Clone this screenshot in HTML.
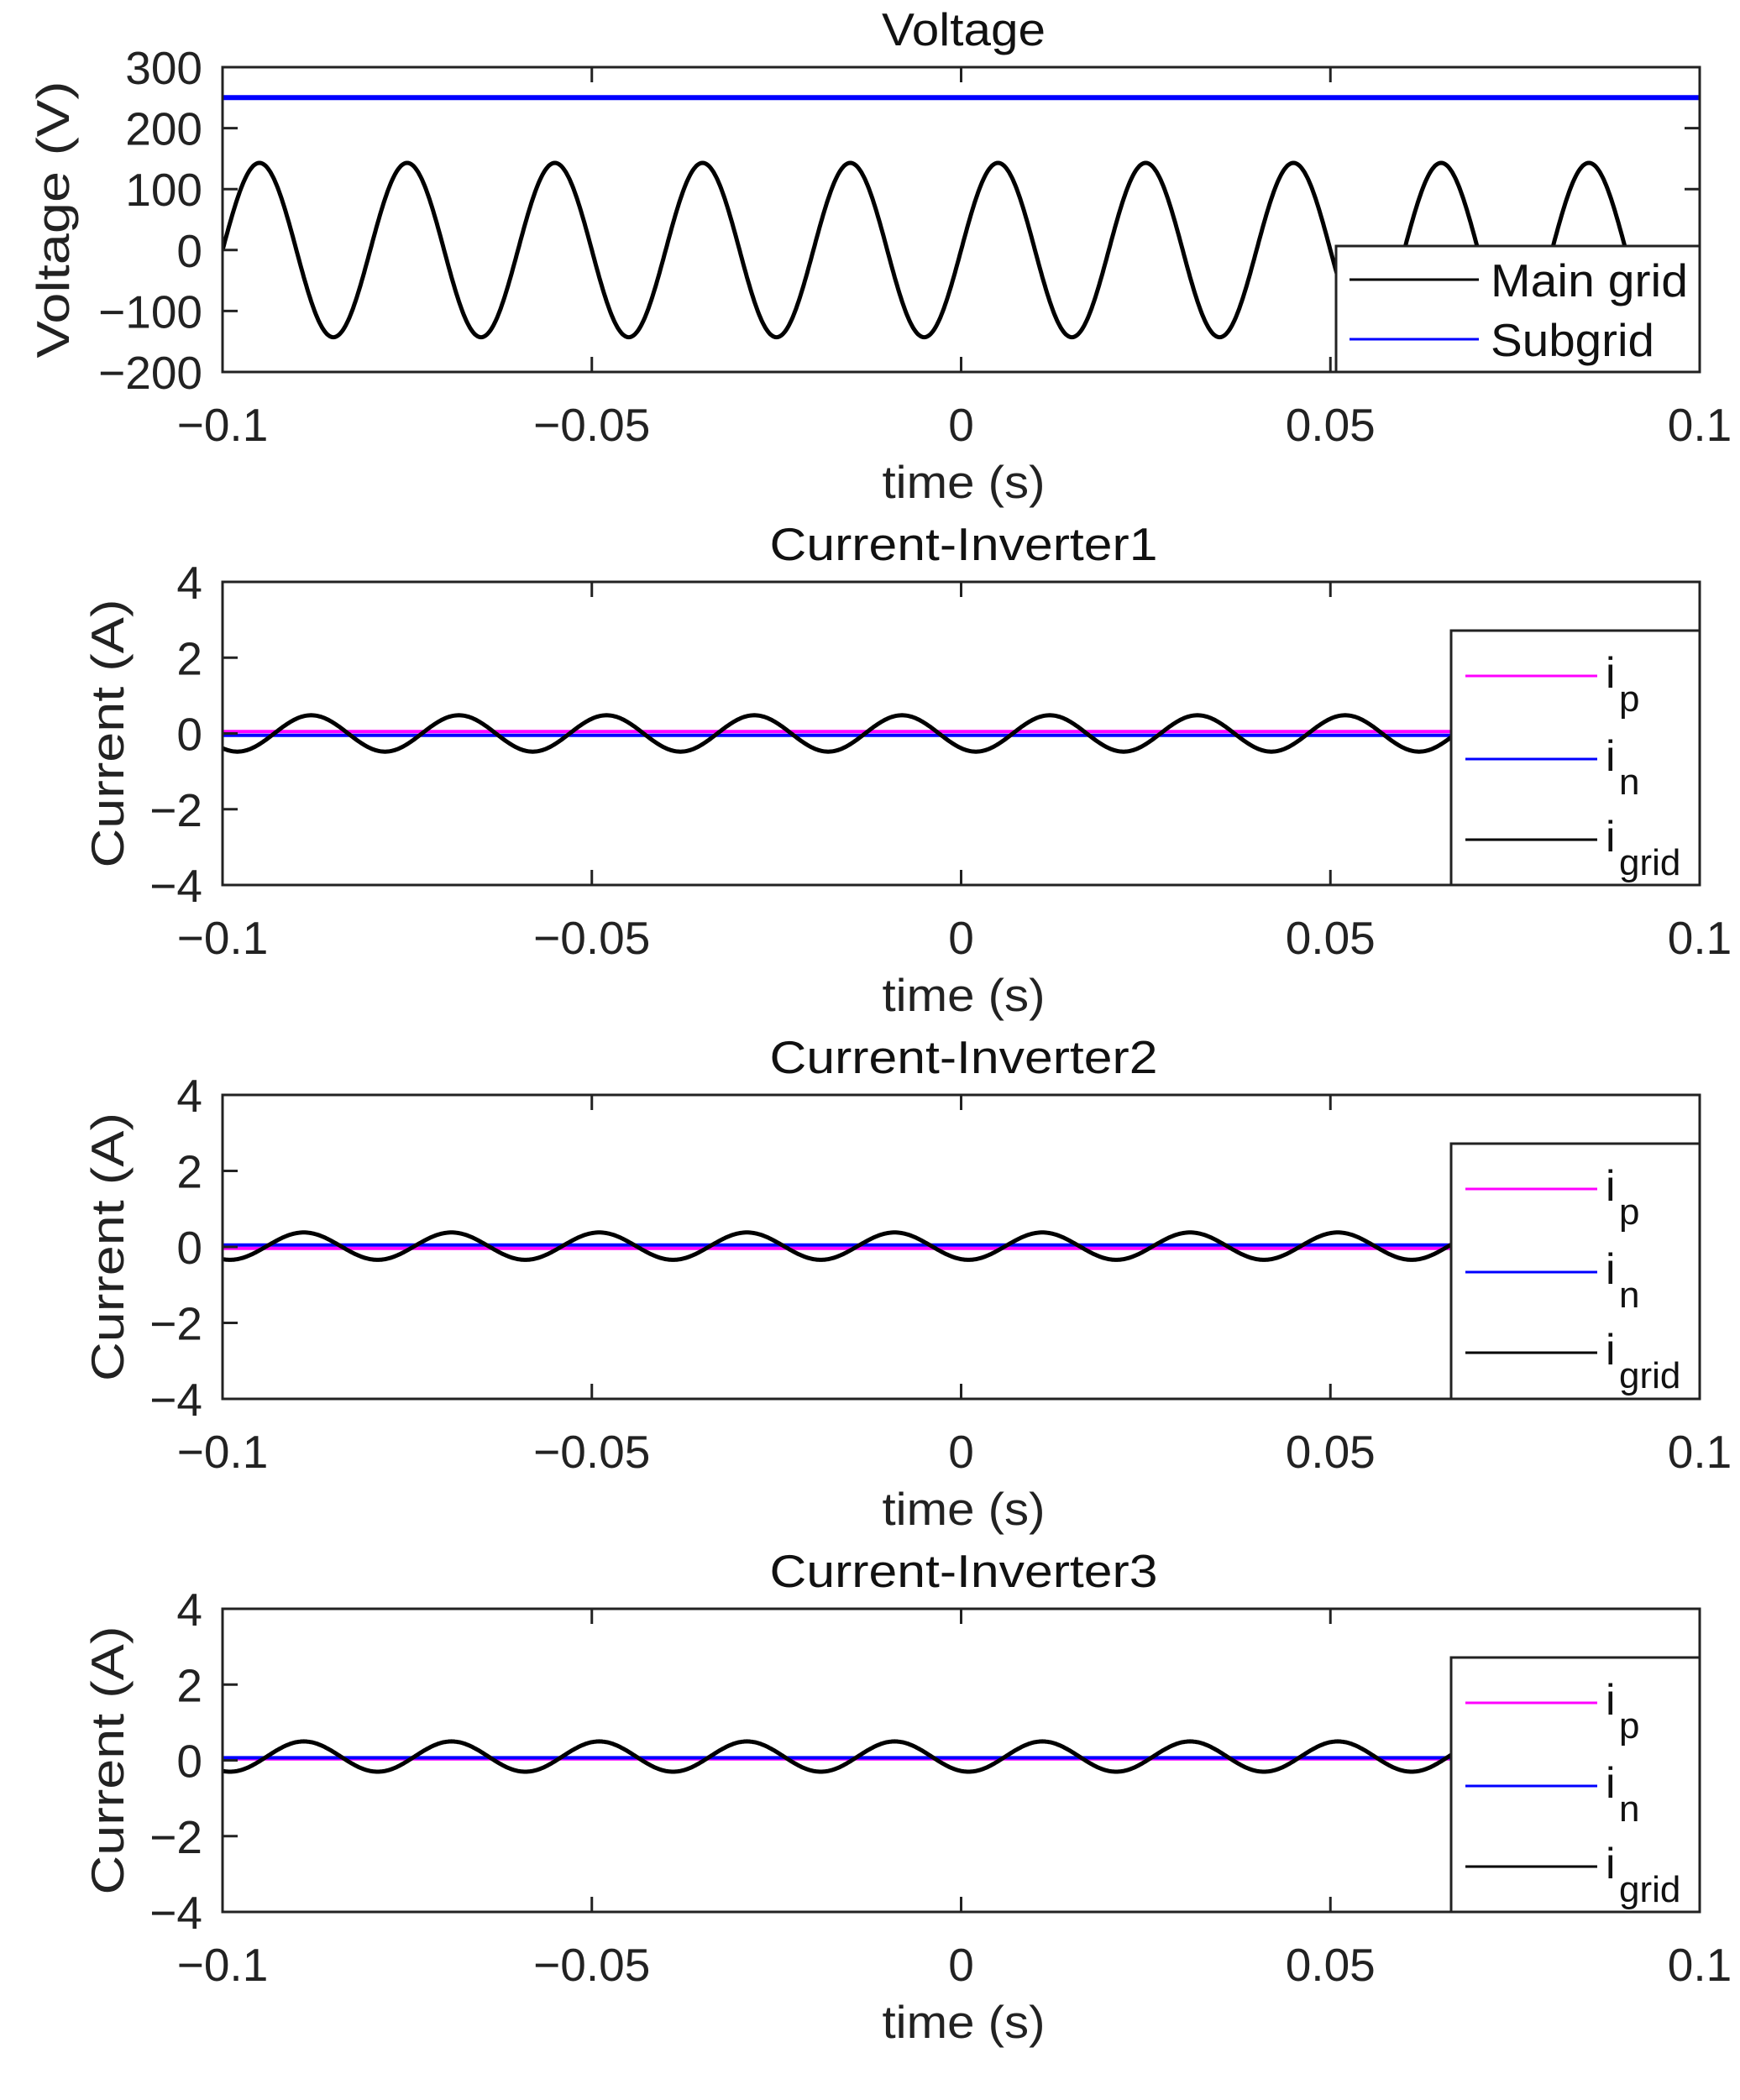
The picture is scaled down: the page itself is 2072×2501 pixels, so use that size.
<!DOCTYPE html>
<html><head><meta charset="utf-8">
<style>
html,body{margin:0;padding:0;background:#fff;}
svg{display:block;font-family:"Liberation Sans","Noto Sans CJK JP",sans-serif;}
</style></head>
<body>
<svg id="fig" width="2072" height="2501" viewBox="0 0 2072 2501" xmlns="http://www.w3.org/2000/svg"></svg>
<script>
// ---- data ----
const xTicks = [-0.1, -0.05, 0, 0.05, 0.1];
const xTickLabels = ["\u22120.1", "\u22120.05", "0", "0.05", "0.1"];
const voltTicks = [-200, -100, 0, 100, 200, 300];
const voltTickLabels = ["\u2212200", "\u2212100", "0", "100", "200", "300"];
const currTicks = [-4, -2, 0, 2, 4];
const currTickLabels = ["\u22124", "\u22122", "0", "2", "4"];
const panelTitles = ["Voltage", "Current-Inverter1", "Current-Inverter2", "Current-Inverter3"];
// sinusoid parameters: amplitude, offset, freq (Hz), zero-crossing time (s)
const mainGridAmp = [143];
const mainGridOffset = [0];
const mainGridFreq = [50];
const mainGridZero = [-0.1];
const subgridLevel = [250];
const gridAmp = [0.48, 0.36, 0.4];
const gridOffset = [0.0, 0.02, 0.1];
const gridFreq = [50, 50, 50];
const gridZero = [-0.093, -0.094, -0.094];
const ipLevel = [0.05, -0.04, 0.04];
const inLevel = [-0.05, 0.05, 0.07];

// ---- layout ----
const NS = "http://www.w3.org/2000/svg";
const svg = document.getElementById('fig');
const L = 265, R = 2024;
const panels = [
  {top: 80, bot: 443, ymin: -200, ymax: 300},
  {top: 693, bot: 1054, ymin: -4, ymax: 4},
  {top: 1304, bot: 1666, ymin: -4, ymax: 4},
  {top: 1916, bot: 2277, ymin: -4, ymax: 4}
];
const titleLens = [195, 462, 462, 462];
function mk(tag, attrs, parent) {
  const e = document.createElementNS(NS, tag);
  for (const k in attrs) e.setAttribute(k, attrs[k]);
  (parent || svg).appendChild(e);
  return e;
}
function xs(t) { return L + (t + 0.1) / 0.2 * (R - L); }
function ysFn(p) { return v => p.bot - (v - p.ymin) / (p.ymax - p.ymin) * (p.bot - p.top); }
function sinePath(ys, amp, off, f, z) {
  let d = "";
  const N = 1200;
  for (let i = 0; i <= N; i++) {
    const t = -0.1 + 0.2 * i / N;
    const v = off + amp * Math.sin(2 * Math.PI * f * (t - z));
    d += (i ? "L" : "M") + xs(t).toFixed(1) + " " + ys(v).toFixed(1);
  }
  return d;
}
function flatPath(ys, v) {
  return "M" + xs(-0.1) + " " + ys(v) + "L" + xs(0.1) + " " + ys(v);
}

panels.forEach((p, pi) => {
  const g = mk('g', {});
  
  
  const ys = ysFn(p);
  const clipId = 'clip' + pi;
  const cp = mk('clipPath', {id: clipId}, g);
  mk('rect', {x: L, y: p.top, width: R - L, height: p.bot - p.top}, cp);
  const series = mk('g', {'clip-path': 'url(#' + clipId + ')'}, g);
  
  

  if (pi === 0) {
    const b = mk('path', {d: flatPath(ys, subgridLevel[0]), stroke: '#0000ff', 'stroke-width': 6, fill: 'none'}, series);
    
    
    const k = mk('path', {d: sinePath(ys, mainGridAmp[0], mainGridOffset[0], mainGridFreq[0], mainGridZero[0]), stroke: '#000', 'stroke-width': 5, fill: 'none'}, series);
    
    
  } else {
    const j = pi - 1;
    const m = mk('path', {d: flatPath(ys, ipLevel[j]), stroke: '#ff00ff', 'stroke-width': 4, fill: 'none'}, series);
    
    
    const b = mk('path', {d: flatPath(ys, inLevel[j]), stroke: '#0000ff', 'stroke-width': 4, fill: 'none'}, series);
    
    
    const k = mk('path', {d: sinePath(ys, gridAmp[j], gridOffset[j], gridFreq[j], gridZero[j]), stroke: '#000', 'stroke-width': 5, fill: 'none'}, series);
    
    
  }

  const box = mk('rect', {x: L, y: p.top, width: R - L, height: p.bot - p.top, fill: 'none', stroke: '#222', 'stroke-width': 3}, g);
  
  

  xTicks.forEach((t, i) => {
    const x = xs(t);
    mk('line', {x1: x, y1: p.bot, x2: x, y2: p.bot - 18, stroke: '#222', 'stroke-width': 3}, g);
    mk('line', {x1: x, y1: p.top, x2: x, y2: p.top + 18, stroke: '#222', 'stroke-width': 3}, g);
    const tx = mk('text', {x: x, y: p.bot + 82, 'font-size': 55, 'text-anchor': 'middle', fill: '#222'}, g);
    tx.textContent = xTickLabels[i];
    
    
  });
  const yt = pi === 0 ? voltTicks : currTicks;
  const ytl = pi === 0 ? voltTickLabels : currTickLabels;
  yt.forEach((v, i) => {
    const y = ys(v);
    mk('line', {x1: L, y1: y, x2: L + 18, y2: y, stroke: '#222', 'stroke-width': 3}, g);
    mk('line', {x1: R, y1: y, x2: R - 18, y2: y, stroke: '#222', 'stroke-width': 3}, g);
    const tx = mk('text', {x: L - 24, y: y + 20, 'font-size': 55, 'text-anchor': 'end', fill: '#222'}, g);
    tx.textContent = ytl[i];
    
    
  });
  const ti = mk('text', {x: (L + R) / 2 + 3, y: p.top - 26, 'font-size': 55, 'text-anchor': 'middle', fill: '#111', textLength: titleLens[pi], lengthAdjust: 'spacingAndGlyphs'}, g);
  ti.textContent = panelTitles[pi];
  
  
  const xl = mk('text', {x: (L + R) / 2 + 3, y: p.bot + 150, 'font-size': 55, 'text-anchor': 'middle', fill: '#222', textLength: 194, lengthAdjust: 'spacingAndGlyphs'}, g);
  xl.textContent = 'time (s)';
  
  
  const cx = pi === 0 ? 82 : 147, cy = (p.top + p.bot) / 2;
  const yl = mk('text', {x: cx, y: cy, 'font-size': 55, 'text-anchor': 'middle', fill: '#222', transform: 'rotate(-90 ' + cx + ' ' + cy + ')', textLength: pi === 0 ? 330 : 320, lengthAdjust: 'spacingAndGlyphs'}, g);
  yl.textContent = pi === 0 ? 'Voltage (V)' : 'Current (A)';
  
  

  const lg = mk('g', {}, g);
  
  
  if (pi === 0) {
    mk('rect', {x: 1591, y: 293, width: R - 1591, height: p.bot - 293, fill: '#fff', stroke: '#222', 'stroke-width': 3}, lg);
    const ents = [['Main grid', '#000', 333, 235], ['Subgrid', '#0000ff', 404, 195]];
    ents.forEach(e => {
      const le = mk('g', {}, lg);
      
      
      mk('line', {x1: 1607, y1: e[2], x2: 1761, y2: e[2], stroke: e[1], 'stroke-width': 3}, le);
      const t = mk('text', {x: 1775, y: e[2] + 20, 'font-size': 55, fill: '#111', textLength: e[3], lengthAdjust: 'spacingAndGlyphs'}, le);
      t.textContent = e[0];
    });
  } else {
    const lt = p.top + 58;
    mk('rect', {x: 1728, y: lt, width: R - 1728, height: p.bot - lt, fill: '#fff', stroke: '#222', 'stroke-width': 3}, lg);
    const ents = [['p', '#ff00ff', 54], ['n', '#0000ff', 153], ['grid', '#000', 249]];
    ents.forEach(e => {
      const le = mk('g', {}, lg);
      
      
      const y = lt + e[2];
      mk('line', {x1: 1745, y1: y, x2: 1902, y2: y, stroke: e[1], 'stroke-width': 3}, le);
      const t = mk('text', {x: 1912, y: y + 14, 'font-size': 52, fill: '#111'}, le);
      t.textContent = 'i';
      const s = mk('text', {x: 1928, y: y + 42, 'font-size': 44, fill: '#111'}, le);
      s.textContent = e[0];
    });
  }
});
</script>
</body></html>
